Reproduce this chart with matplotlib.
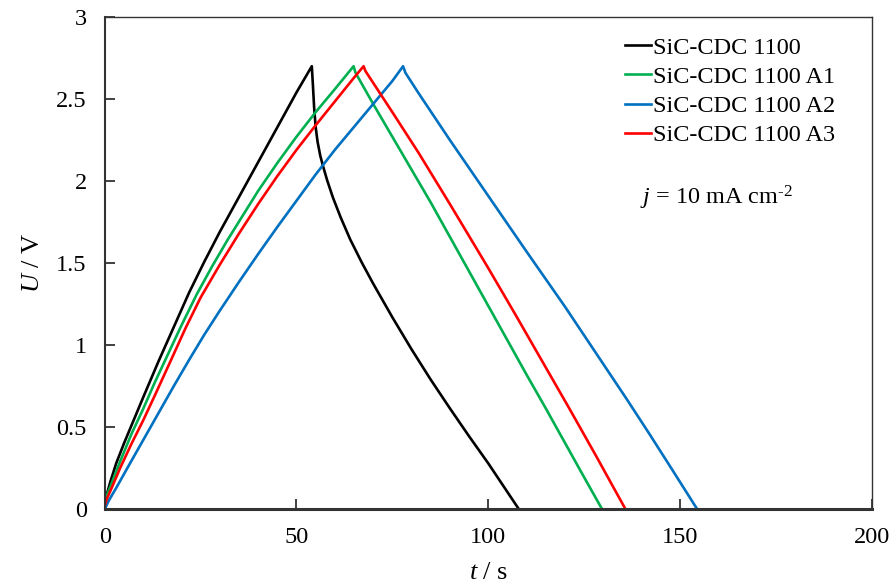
import matplotlib
matplotlib.use("Agg")
import matplotlib.pyplot as plt
import numpy as np

plt.rcParams['font.family'] = ['Liberation Serif', 'DejaVu Serif']
plt.rcParams['mathtext.fontset'] = 'custom'
plt.rcParams['mathtext.rm'] = 'Liberation Serif'
plt.rcParams['mathtext.it'] = 'Liberation Serif:italic'

# galvanostatic charge/discharge curves (t in s, U in V)
t_1100 = [0, 0.3, 1.5, 3, 5, 7.5, 10, 14, 18, 22, 26, 30, 34, 38, 42, 46, 50, 54.0,
          54.3, 54.6, 55.0, 55.5, 56.2, 57.0, 58.0, 59.5, 61.5, 64, 67, 70, 75, 80, 85,
          90, 95, 100, 104, 108.0]
u_1100 = [0, 0.07, 0.17, 0.28, 0.40, 0.54, 0.68, 0.90, 1.11, 1.32, 1.51, 1.69, 1.86,
          2.03, 2.20, 2.37, 2.54, 2.70,
          2.58, 2.45, 2.33, 2.24, 2.155, 2.085, 2.005, 1.90, 1.78, 1.645, 1.505, 1.375,
          1.17, 0.975, 0.79, 0.615, 0.445, 0.28, 0.14, 0.0]

t_a1 = [0, 0.5, 2, 4, 7, 10, 13, 16, 20, 24, 28, 32, 36, 40, 45, 50, 55, 60, 64.9,
        65.4, 70, 75, 80, 85, 90, 95, 100, 105, 110, 115, 120, 125, 129.7]
u_a1 = [0.02, 0.08, 0.17, 0.29, 0.46, 0.61, 0.77, 0.92, 1.12, 1.31, 1.48, 1.64, 1.79,
        1.94, 2.11, 2.27, 2.42, 2.56, 2.70,
        2.66, 2.47, 2.27, 2.07, 1.87, 1.66, 1.45, 1.24, 1.03, 0.82, 0.615, 0.405, 0.195, 0.0]

t_a2 = [0, 1, 3, 6, 10, 14, 18, 22, 26, 30, 35, 40, 45, 50, 55, 60, 65, 70, 75, 77.8,
        78.4, 82, 90, 100, 110, 120, 130, 136, 142, 148, 154.5]
u_a2 = [0, 0.05, 0.13, 0.255, 0.42, 0.585, 0.75, 0.91, 1.065, 1.21, 1.385, 1.555, 1.72,
        1.88, 2.04, 2.19, 2.33, 2.47, 2.61, 2.70,
        2.66, 2.53, 2.25, 1.91, 1.57, 1.235, 0.885, 0.675, 0.46, 0.24, 0.0]

t_a3 = [0, 0.5, 2, 4, 7, 10, 13, 17.5, 21, 25, 30, 35, 40, 45, 50, 55, 60, 65, 67.5,
        68.0, 75, 81.9, 90, 100, 107, 114, 121, 128, 135.8]
u_a3 = [0.02, 0.06, 0.14, 0.25, 0.40, 0.54, 0.69, 0.92, 1.10, 1.29, 1.49, 1.68, 1.86,
        2.03, 2.19, 2.34, 2.485, 2.63, 2.70,
        2.67, 2.42, 2.17, 1.86, 1.47, 1.19, 0.905, 0.62, 0.33, 0.0]

labels = ['SiC-CDC 1100', 'SiC-CDC 1100 A1', 'SiC-CDC 1100 A2', 'SiC-CDC 1100 A3']
colors = ['#000000', '#00B050', '#0070C0', '#FF0000']
series = [(t_1100, u_1100), (t_a1, u_a1), (t_a2, u_a2), (t_a3, u_a3)]

fig = plt.figure(figsize=(8.95, 5.86), dpi=100)
ax = fig.add_axes([0.117, 0.131, 0.857, 0.840])

for (t, u), lab, c in zip(series, labels, colors):
    ax.plot(t, u, color=c, lw=1.9, label=lab)

ax.set_xlim(0, 200)
ax.set_ylim(0, 3)
ax.set_xticks(np.arange(0, 201, 50))
ax.set_yticks(np.arange(0, 3.01, 0.5))
ax.set_yticklabels(['0', '0.5', '1', '1.5', '2', '2.5', '3'])

ax.tick_params(direction='in', length=7, width=1.3, labelsize=17.5, pad=13,
               color='#333333')
for s in ax.spines.values():
    s.set_color('#333333')
    s.set_linewidth(1.0)
ax.spines['left'].set_linewidth(1.5)
ax.spines['bottom'].set_linewidth(2.2)

ax.set_xlabel(r'$\it{t}$ / s', fontsize=19, labelpad=10)
ax.set_ylabel(r'$\it{U}$ / V', fontsize=19, labelpad=9)

leg = ax.legend(loc='upper left', bbox_to_anchor=(0.662, 0.985), frameon=False,
                fontsize=17.5, handlelength=1.1, handletextpad=0.05,
                labelspacing=0.3, borderpad=0)

ax.text(139.5, 1.90, r'$\it{j}$ = 10 mA cm$^{\text{-2}}$', fontsize=17.5,
        va='center', ha='left')

fig.savefig('out.png', dpi=100)
